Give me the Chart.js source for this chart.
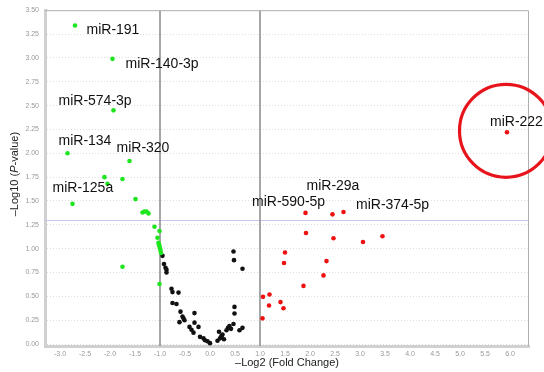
<!DOCTYPE html>
<html>
<head>
<meta charset="utf-8">
<script src="https://cdn.jsdelivr.net/npm/chart.js@4"></script>
<style>
  html, body { margin: 0; padding: 0; background: #fff; }
  #chart { display: block; }
</style>
</head>
<body>
<canvas id="chart" width="544" height="372"></canvas>
<script>
// significant down (green), not significant (black), significant up (red)
const greenX = [-2.70, -1.95, -1.93, -2.85, -1.61, -2.11, -2.05, -1.75, -2.75, -1.49,
  -1.35, -1.31, -1.27, -1.23, -1.11, -1.01, -1.05, -1.03, -1.02, -1.01, -1.00, -0.99, -0.98,
  -1.75, -1.01];
const greenY = [3.34, 2.99, 2.45, 2.00, 1.92, 1.75, 1.68, 1.73, 1.47, 1.52,
  1.38, 1.39, 1.39, 1.37, 1.23, 1.185, 1.115, 1.063, 1.046, 1.025, 1.004, 0.98, 0.955,
  0.81, 0.63];

const blackX = [-0.95, -0.92, -0.89, -0.87, -0.87, -0.77, -0.75, -0.63, -0.75, -0.67,
  -0.59, -0.55, -0.53, -0.51, -0.61, -0.31, -0.31, -0.23, -0.37, -0.33, -0.41, -0.20,
  -0.13, -0.10, 0.00, -0.05, 0.18, 0.20, 0.23, 0.25, 0.28, 0.15, 0.33, 0.36, 0.39, 0.42,
  0.23, 0.47, 0.48, 0.65, 0.49, 0.49, 0.47, 0.59, 0.65];
const blackY = [0.925, 0.84, 0.80, 0.78, 0.75, 0.58, 0.545, 0.54, 0.43, 0.42,
  0.34, 0.29, 0.27, 0.25, 0.23, 0.325, 0.225, 0.18, 0.15, 0.12, 0.18, 0.076,
  0.06, 0.04, 0.01, 0.03, 0.13, 0.06, 0.076, 0.10, 0.05, 0.035, 0.145, 0.17, 0.19, 0.16,
  0.086, 0.97, 0.88, 0.79, 0.39, 0.32, 0.21, 0.145, 0.17];

const redX = [1.91, 2.45, 2.67, 1.92, 2.47, 3.06, 3.45, 1.50, 1.48, 2.33, 2.27, 1.87,
  1.06, 1.19, 1.18, 1.41, 1.47, 1.05, 5.94];
const redY = [1.375, 1.36, 1.385, 1.165, 1.11, 1.07, 1.13, 0.96, 0.85, 0.87, 0.72, 0.61,
  0.495, 0.52, 0.405, 0.44, 0.375, 0.27, 2.22];

// miRNA labels (left edge / middle of text, in data units)
const labelNames = ["miR-191", "miR-140-3p", "miR-574-3p", "miR-134", "miR-320", "miR-125a",
  "miR-590-5p", "miR-29a", "miR-374-5p", "miR-222"];
const labelX = [-2.47, -1.69, -3.03, -3.03, -1.87, -3.15, 0.84, 1.93, 2.92, 5.60];
const labelY = [3.29, 2.93, 2.55, 2.13, 2.05, 1.63, 1.49, 1.66, 1.455, 2.33];

const xTicks = [-3.0, -2.5, -2.0, -1.5, -1.0, -0.5, 0.0, 0.5, 1.0, 1.5, 2.0, 2.5, 3.0, 3.5, 4.0, 4.5, 5.0, 5.5, 6.0];
const yTicks = [0.0, 0.25, 0.5, 0.75, 1.0, 1.25, 1.5, 1.75, 2.0, 2.25, 2.5, 2.75, 3.0, 3.25, 3.5];

const foldCut = [-1, 1];
const pCut = 1.3;
const circledName = "miR-222";

const toPoints = (xs, ys) => xs.map((x, i) => ({ x: x, y: ys[i] }));

const FONT = "'Liberation Sans', Arial, sans-serif";

const volcanoExtras = {
  id: "volcanoExtras",
  beforeDatasetsDraw(chart) {
    const { ctx, chartArea: a, scales: { x, y } } = chart;
    ctx.save();
    // threshold lines
    ctx.strokeStyle = "#c4c6ee";
    ctx.lineWidth = 1;
    const py = Math.round(y.getPixelForValue(pCut)) + 0.5;
    ctx.beginPath();
    ctx.moveTo(a.left, py);
    ctx.lineTo(a.right, py);
    ctx.stroke();
    ctx.strokeStyle = "#8a8a8a";
    ctx.lineWidth = 1.5;
    foldCut.forEach(v => {
      const px = x.getPixelForValue(v);
      ctx.beginPath();
      ctx.moveTo(px, a.top);
      ctx.lineTo(px, a.bottom);
      ctx.stroke();
    });
    // thin frame on top and right
    ctx.strokeStyle = "#b0b0b0";
    ctx.lineWidth = 1;
    ctx.beginPath();
    ctx.moveTo(a.left, a.top + 0.5);
    ctx.lineTo(a.right - 0.5, a.top + 0.5);
    ctx.lineTo(a.right - 0.5, a.bottom);
    ctx.stroke();
    ctx.restore();
  },
  afterDatasetsDraw(chart) {
    const { ctx, scales: { x, y } } = chart;
    ctx.save();
    ctx.fillStyle = "#111";
    ctx.font = "14px " + FONT;
    ctx.textAlign = "left";
    ctx.textBaseline = "middle";
    labelNames.forEach((name, i) => {
      ctx.fillText(name, x.getPixelForValue(labelX[i]), y.getPixelForValue(labelY[i]));
    });
    // red circle around the highlighted miRNA
    const k = labelNames.indexOf(circledName);
    const idx = redX.length - 1;
    if (k >= 0) {
      ctx.strokeStyle = "#e8141c";
      ctx.lineWidth = 3.2;
      ctx.beginPath();
      ctx.arc(x.getPixelForValue(redX[idx]) - 1, y.getPixelForValue(redY[idx]) - 1.5, 46.5, 0, Math.PI * 2);
      ctx.stroke();
    }
    // y axis title with italic P
    const cy = (chart.chartArea.top + chart.chartArea.bottom) / 2 - 4;
    ctx.translate(15, cy);
    ctx.rotate(-Math.PI / 2);
    ctx.fillStyle = "#222";
    ctx.textBaseline = "middle";
    const parts = [["\u2013Log10 (", "11px " + FONT], ["P", "italic 11px " + FONT], ["-value)", "11px " + FONT]];
    let w = 0;
    parts.forEach(p => { ctx.font = p[1]; w += ctx.measureText(p[0]).width; });
    let tx = -w / 2;
    parts.forEach(p => {
      ctx.font = p[1];
      ctx.fillText(p[0], tx, 0);
      tx += ctx.measureText(p[0]).width;
    });
    ctx.restore();
  }
};

const pointStyle = (color) => ({
  backgroundColor: color,
  borderColor: color,
  borderWidth: 0,
  pointRadius: 2.3,
  pointHoverRadius: 2.3
});

new Chart(document.getElementById("chart"), {
  type: "scatter",
  data: {
    datasets: [
      Object.assign({ label: "down", data: toPoints(greenX, greenY) }, pointStyle("#1ee61e")),
      Object.assign({ label: "ns", data: toPoints(blackX, blackY) }, pointStyle("#111111")),
      Object.assign({ label: "up", data: toPoints(redX, redY) }, pointStyle("#ee1111"))
    ]
  },
  options: {
    responsive: false,
    animation: false,
    events: [],
    layout: { padding: { top: 7, right: 15, left: 0, bottom: 0 } },
    plugins: {
      legend: { display: false },
      tooltip: { enabled: false }
    },
    scales: {
      x: {
        type: "linear",
        min: -3.3,
        max: 6.38,
        afterBuildTicks: (axis) => { axis.ticks = xTicks.map(v => ({ value: v })); },
        afterFit: (axis) => { axis.height = 26; },
        grid: { display: true, drawOnChartArea: false, drawTicks: true, tickLength: 2, color: "#d8d8d8" },
        border: { display: true, color: "#d0d0d0", width: 3 },
        ticks: {
          padding: 2,
          color: "#999",
          font: { family: FONT, size: 7 },
          callback: (v) => Number(v).toFixed(1)
        },
        title: {
          display: true,
          text: "\u2013Log2 (Fold Change)",
          color: "#222",
          font: { family: FONT, size: 11 },
          padding: { top: 0, bottom: 2 }
        }
      },
      y: {
        type: "linear",
        min: -0.02,
        max: 3.5,
        afterBuildTicks: (axis) => { axis.ticks = yTicks.map(v => ({ value: v })); },
        afterFit: (axis) => { axis.width = 45; },
        grid: { color: "#dedede", drawTicks: false },
        border: { display: true, color: "#d0d0d0", width: 3, dash: [1, 2] },
        ticks: {
          padding: 6,
          color: "#999",
          font: { family: FONT, size: 7 },
          callback: (v) => Number(v).toFixed(2)
        }
      }
    }
  },
  plugins: [volcanoExtras]
});
</script>
</body>
</html>
